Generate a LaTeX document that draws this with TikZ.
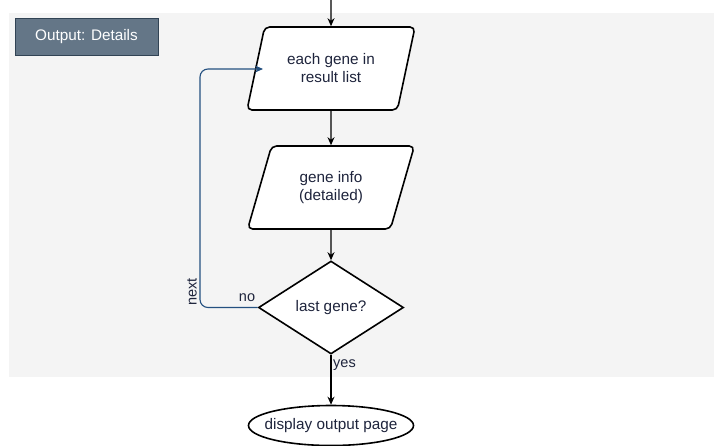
\documentclass[tikz,border=0pt]{standalone}
\usepackage{fontspec}
\setmainfont{Liberation Sans}
\usetikzlibrary{shapes.geometric,arrows.meta}
\definecolor{txt}{RGB}{30,36,60}
\definecolor{loopblue}{RGB}{36,80,128}
\definecolor{panel}{RGB}{244,244,244}
\definecolor{tagfill}{RGB}{100,118,135}
\definecolor{tagline}{RGB}{49,67,84}
\tikzset{
  every node/.style={font=\fontsize{15.3}{18}\selectfont, text=txt},
  iobox/.style={trapezium, trapezium left angle=68.3, trapezium right angle=111.7,
    trapezium stretches=true, minimum width=168, minimum height=83,
    draw=black, line width=1.6, fill=white, rounded corners=5, align=center, inner sep=0},
  decide/.style={diamond, minimum width=145, minimum height=93, inner sep=0,
    draw=black, line width=1.6, fill=white},
  terminal/.style={ellipse, minimum width=162, minimum height=40, inner xsep=-8, inner ysep=0,
    draw=black, line width=1.6, fill=white},
  flow/.style={draw=black, line width=1.1, -{Stealth[length=8,width=7]}},
  loopflow/.style={draw=loopblue, line width=1.1, rounded corners=8, -{Stealth[length=8,width=7]}},
  edgelabel/.style={font=\fontsize{14.5}{16}\selectfont, inner sep=0}
}
\begin{document}
\begin{tikzpicture}[x=1pt, y=-1pt]
  \useasboundingbox (0,0) rectangle (714,445);
  % grey panel of the detailed output section
  \fill[panel] (9,13) rectangle (714,377);
  % section tag
  \node[draw=tagline, fill=tagfill, line width=0.8, minimum width=143, minimum height=37,
        inner sep=0, text=white] (tag) at (86.5,36.5) {Output: Details};

  \coordinate (entry) at (331,0);
  \node[iobox] (each) at (331,68.5) {each gene in\\result list};
  \node[iobox] (info) at (331,187.5) {gene info\\(detailed)};
  \node[decide] (last) at (331,307.5) {last gene?};
  \node[terminal] (page) at (331,425.5) {display output page};

  \draw[flow] (entry) -- (each.north);
  \draw[flow] (each.south) -- (info.north);
  \draw[flow] (info.south) -- (last.north);
  \draw[flow] (last.south) -- (page.north);
  \node[edgelabel, anchor=west] (yes) at (333,365.5) {yes};

  % loop back to the next gene
  \coordinate (back) at (263,69);
  \draw[loopflow] (last.west) -- (200,307.5) -- (200,69) -- (back);
  \node[edgelabel] (no) at (247,297.5) {no};
  \node[edgelabel, rotate=90] (next) at (192,292) {next};
\end{tikzpicture}
\end{document}
